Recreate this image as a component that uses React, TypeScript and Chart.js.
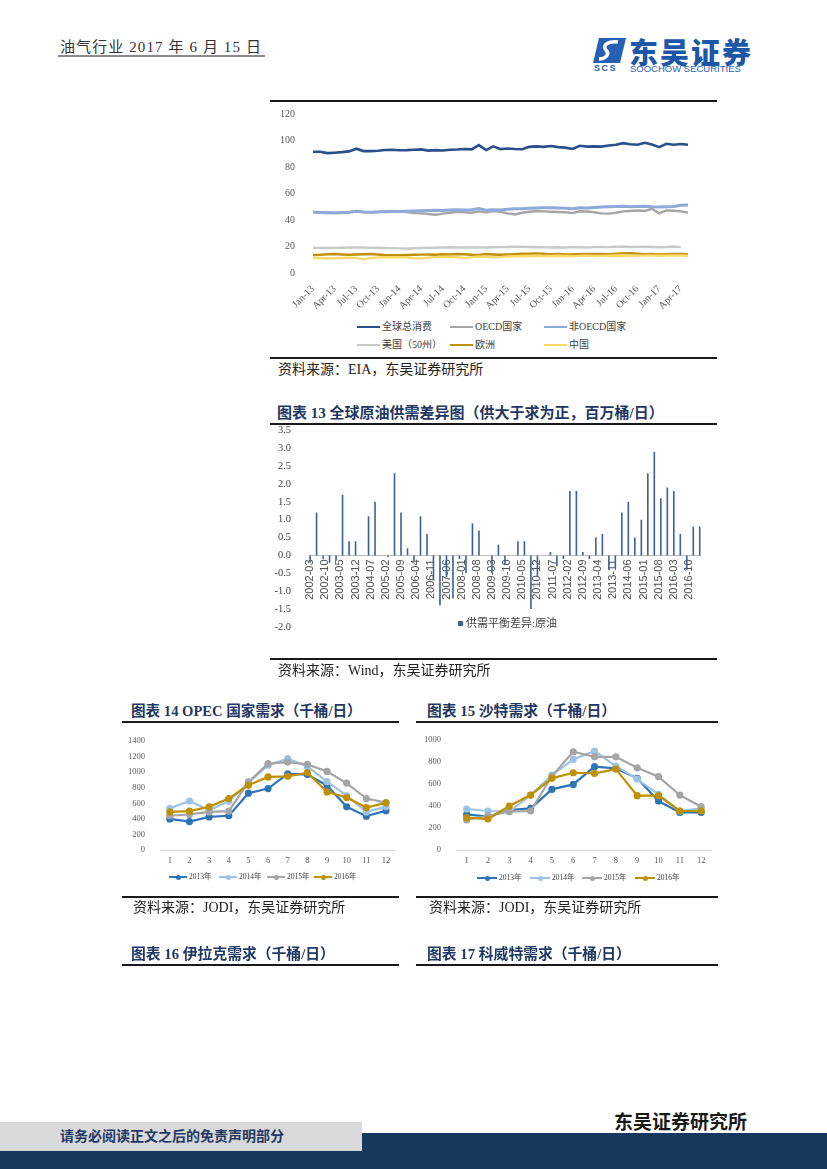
import React, { useEffect, useRef } from 'react';
import { Chart, registerables } from 'chart.js';

Chart.register(...registerables);

const SERIF = '"Liberation Serif", "Times New Roman", serif';
const SANS = '"Liberation Sans", Arial, sans-serif';
const CJK = '"Liberation Serif", "Noto Sans CJK SC", serif';
const NAVY = '#1f3864';

// ---------- Figure: global oil consumption (million bbl/d) ----------
const MONTHS = [
  'Jan-13', 'Feb-13', 'Mar-13', 'Apr-13', 'May-13', 'Jun-13', 'Jul-13', 'Aug-13', 'Sep-13', 'Oct-13', 'Nov-13', 'Dec-13',
  'Jan-14', 'Feb-14', 'Mar-14', 'Apr-14', 'May-14', 'Jun-14', 'Jul-14', 'Aug-14', 'Sep-14', 'Oct-14', 'Nov-14', 'Dec-14',
  'Jan-15', 'Feb-15', 'Mar-15', 'Apr-15', 'May-15', 'Jun-15', 'Jul-15', 'Aug-15', 'Sep-15', 'Oct-15', 'Nov-15', 'Dec-15',
  'Jan-16', 'Feb-16', 'Mar-16', 'Apr-16', 'May-16', 'Jun-16', 'Jul-16', 'Aug-16', 'Sep-16', 'Oct-16', 'Nov-16', 'Dec-16',
  'Jan-17', 'Feb-17', 'Mar-17', 'Apr-17', 'May-17',
];
const GLOBAL_TOTAL = [
  91.5, 91.5, 90.5, 90.8, 91.2, 91.8, 93.8, 92.0, 92.0, 92.3,
  92.8, 93.0, 92.6, 92.7, 93.0, 93.3, 92.4, 92.7, 92.4, 93.0,
  93.2, 93.6, 93.3, 96.5, 92.8, 95.6, 93.5, 94.0, 93.6, 93.4,
  95.2, 95.6, 95.2, 95.8, 95.0, 94.6, 93.6, 96.0, 95.4, 95.6,
  95.4, 96.2, 96.8, 98.0, 97.2, 96.8, 98.3, 97.0, 95.0, 97.5,
  96.8, 97.4, 96.8,
];
const OECD = [
  46.0, 45.8, 45.5, 45.3, 45.5, 45.8, 46.8, 46.0, 45.8, 46.2,
  46.5, 46.8, 46.5, 46.0, 45.2, 45.0, 44.5, 44.0, 44.8, 45.5,
  46.2, 45.8, 45.5, 46.5, 45.6, 46.8, 46.2, 45.0, 44.2, 45.5,
  46.2, 46.8, 46.5, 46.2, 46.0, 45.8, 45.2, 46.6, 46.4, 45.8,
  45.0, 44.8, 45.5, 46.5, 46.8, 47.2, 46.8, 48.5, 45.0, 47.2,
  47.0, 46.5, 45.6,
];
const NON_OECD = [
  45.8, 45.6, 45.4, 45.4, 45.5, 45.8, 46.6, 46.0, 45.9, 46.0,
  46.3, 46.5, 46.5, 46.6, 46.8, 47.0, 47.2, 47.3, 47.2, 47.5,
  47.8, 47.6, 47.8, 48.6, 47.4, 47.8, 47.6, 48.2, 48.4, 48.5,
  48.8, 49.0, 49.3, 49.2, 49.0, 48.8, 48.5, 49.2, 49.0, 49.4,
  49.8, 50.0, 50.2, 50.3, 50.0, 50.2, 50.4, 50.0, 49.8, 50.0,
  50.2, 51.2, 51.3,
];
const USA = [
  19.0, 19.0, 18.9, 19.0, 19.1, 19.2, 19.3, 19.2, 19.0, 19.1,
  19.0, 18.8, 18.6, 18.3, 18.7, 18.9, 19.0, 19.1, 19.3, 19.4,
  19.2, 19.3, 19.4, 19.2, 19.3, 19.4, 19.5, 19.6, 19.8, 19.9,
  19.6, 19.4, 19.5, 19.3, 19.4, 19.2, 19.5, 19.4, 19.3, 19.5,
  19.6, 19.5, 19.8, 20.0, 19.6, 19.7, 19.9, 19.6, 19.4, 19.6,
  20.0, 19.5, null,
];
const EUROPE = [
  13.6, 13.8, 14.2, 14.3, 14.0, 13.8, 14.0, 14.2, 14.3, 14.0,
  13.6, 13.4, 13.5, 13.6, 13.8, 13.9, 14.0, 13.8, 14.2, 14.0,
  14.3, 14.2, 13.8, 13.6, 14.3, 14.0, 13.8, 14.0, 14.2, 14.5,
  14.6, 14.8, 14.5, 14.2, 14.3, 14.0, 14.0, 14.3, 14.4, 14.3,
  14.4, 14.2, 14.6, 14.8, 15.0, 14.6, 14.2, 14.3, 14.0, 14.2,
  14.3, 14.4, 14.2,
];
const CHINA = [
  11.5, 11.2, 11.0, 11.1, 11.3, 11.6, 11.4, 10.3, 11.3, 11.8,
  12.0, 11.9, 12.0, 11.8, 11.2, 11.0, 11.6, 12.0, 12.2, 12.3,
  12.1, 11.2, 12.0, 12.5, 12.2, 11.8, 12.0, 12.4, 12.6, 12.8,
  12.6, 12.8, 12.9, 12.8, 13.0, 12.8, 12.7, 12.9, 13.0, 12.8,
  12.9, 13.0, 13.2, 13.0, 12.8, 13.1, 13.3, 13.2, 13.0, 13.2,
  13.3, 13.2, 13.0,
];
const CONSUMPTION_LABELS = ['全球总消费', 'OECD国家', '非OECD国家', '美国（50州）', '欧洲', '中国'];
const CONSUMPTION_COLORS = ['#2b4e8c', '#a6a6a6', '#8eaadb', '#c9c9c9', '#bf9000', '#ffd966'];

// ---------- Figure 13: supply-demand gap (quarterly values on a monthly axis) ----------
const GAP_FIRST_YEAR = 2002;
const GAP_FIRST_MONTH = 3;
const GAP_QUARTERLY = [
  -0.2, 1.2, -0.1, -0.2, -0.15, 1.7, 0.4, 0.4, 0, 1.1,
  1.5, 0, -0.05, 2.3, 1.2, 0.2, -0.15, 1.1, 0.6, -0.7,
  -1.4, -0.6, -1.2, -0.1, -0.5, 0.9, 0.7, 0, -0.5, 0.3,
  -0.25, 0, 0.4, 0.4, -1.5, -0.6, 0, 0.1, -0.3, -0.1,
  1.8, 1.8, 0.1, -0.1, 0.5, 0.6, -0.4, -0.35, 1.2, 1.5,
  0.5, 1.0, 2.3, 2.9, 1.6, 1.9, 1.8, 0.6, -0.4, 0.8,
  0.8,
];
const GAP_LABEL = '供需平衡差异:原油';

const GAP_MONTHS: string[] = [];
const GAP_VALUES: (number | null)[] = [];
for (let k = 0; k < (GAP_QUARTERLY.length - 1) * 3 + 1; k++) {
  const m = GAP_FIRST_MONTH - 1 + k;
  const yr = GAP_FIRST_YEAR + Math.floor(m / 12);
  const mm = (m % 12) + 1;
  GAP_MONTHS.push(`${yr}-${String(mm).padStart(2, '0')}`);
  GAP_VALUES.push(k % 3 === 0 ? GAP_QUARTERLY[k / 3] : null);
}

// ---------- Figures 14 & 15 ----------
const MONTH_NUMS = ['1', '2', '3', '4', '5', '6', '7', '8', '9', '10', '11', '12'];
const YEAR_LABELS = ['2013年', '2014年', '2015年', '2016年'];
const YEAR_COLORS = ['#2e75b6', '#9dc3e6', '#a5a5a5', '#bf9000'];

const OPEC_2013 = [400, 365, 425, 440, 730, 790, 980, 970, 830, 555, 435, 505];
const OPEC_2014 = [535, 630, 510, 625, 865, 1090, 1175, 1075, 880, 700, 490, 555];
const OPEC_2015 = [440, 457, 490, 500, 875, 1110, 1130, 1100, 1010, 860, 662, 610];
const OPEC_2016 = [490, 500, 555, 662, 832, 940, 947, 995, 747, 674, 546, 606];

const SAUDI_2013 = [324, 303, 364, 379, 552, 597, 758, 742, 652, 445, 342, 342];
const SAUDI_2014 = [373, 355, 348, 500, 682, 824, 900, 764, 645, 506, 355, 379];
const SAUDI_2015 = [273, 312, 348, 355, 673, 894, 848, 848, 748, 667, 500, 394];
const SAUDI_2016 = [294, 282, 400, 500, 652, 703, 697, 736, 494, 494, 355, 355];

// ---------- configs ----------
function consumptionConfig(): any {
  const series = [GLOBAL_TOTAL, OECD, NON_OECD, USA, EUROPE, CHINA];
  const widths = [2.6, 2.4, 3, 2.4, 2.4, 2.4];
  return {
    type: 'line',
    data: {
      labels: MONTHS,
      datasets: series.map((d, i) => ({
        label: CONSUMPTION_LABELS[i],
        data: d,
        borderColor: CONSUMPTION_COLORS[i],
        backgroundColor: CONSUMPTION_COLORS[i],
        borderWidth: widths[i],
        pointRadius: 0,
        tension: 0,
        fill: false,
        order: series.length - i,
      })),
    },
    options: {
      animation: false,
      responsive: false,
      layout: { padding: { top: 9, right: 29, bottom: 0, left: 0 } },
      plugins: { legend: { display: false }, tooltip: { enabled: false } },
      scales: {
        x: {
          grid: { display: false },
          border: { display: false },
          ticks: {
            autoSkip: false,
            minRotation: 45,
            maxRotation: 45,
            padding: 2,
            color: '#595959',
            font: { family: SERIF, size: 10 },
            callback: (_v: any, i: number) => (i % 3 === 0 ? MONTHS[i] : ''),
          },
          afterFit: (s: any) => { s.height = 47; },
        },
        y: {
          min: 0,
          max: 120,
          grid: { display: false },
          border: { display: false },
          ticks: { stepSize: 20, padding: 10, color: '#595959', font: { family: SERIF, size: 10 } },
          afterFit: (s: any) => { s.width = 43; },
        },
      },
    },
  };
}

function gapConfig(): any {
  return {
    type: 'bar',
    data: {
      labels: GAP_MONTHS,
      datasets: [{
        label: GAP_LABEL,
        data: GAP_VALUES,
        backgroundColor: '#3f6296',
        barPercentage: 0.75,
        categoryPercentage: 1,
      }],
    },
    options: {
      animation: false,
      responsive: false,
      layout: { padding: { top: 10, right: 7, bottom: 33, left: 0 } },
      plugins: { legend: { display: false }, tooltip: { enabled: false } },
      scales: {
        x: {
          position: { y: 0 },
          grid: { display: false, drawTicks: false },
          border: { display: true, color: '#bfbfbf', width: 1 },
          ticks: {
            autoSkip: false,
            minRotation: 90,
            maxRotation: 90,
            padding: 4,
            color: '#505050',
            font: { family: SANS, size: 11 },
            callback: (_v: any, i: number) => (i % 7 === 0 ? GAP_MONTHS[i] : ''),
          },
        },
        y: {
          min: -2,
          max: 3.5,
          grid: { display: false },
          border: { display: false },
          ticks: {
            stepSize: 0.5,
            padding: 10,
            color: '#404040',
            font: { family: SERIF, size: 10.5 },
            callback: (v: any) => Number(v).toFixed(1),
          },
          afterFit: (s: any) => { s.width = 39; },
        },
      },
    },
  };
}

function yearlyConfig(sets: number[][], yMax: number, yStep: number, rightPad: number): any {
  return {
    type: 'line',
    data: {
      labels: MONTH_NUMS,
      datasets: sets.map((d, i) => ({
        label: YEAR_LABELS[i],
        data: d,
        borderColor: YEAR_COLORS[i],
        backgroundColor: YEAR_COLORS[i],
        pointBackgroundColor: YEAR_COLORS[i],
        pointBorderColor: YEAR_COLORS[i],
        pointRadius: 2.5,
        borderWidth: 2.2,
        tension: 0,
        fill: false,
        order: sets.length - i,
      })),
    },
    options: {
      animation: false,
      responsive: false,
      layout: { padding: { top: 8, right: rightPad, bottom: 22, left: 0 } },
      plugins: { legend: { display: false }, tooltip: { enabled: false } },
      scales: {
        x: {
          offset: true,
          grid: { display: false, drawTicks: false },
          border: { display: true, color: '#d9d9d9' },
          ticks: { padding: 6, color: '#595959', font: { family: SERIF, size: 8.5 } },
          afterFit: (s: any) => { s.height = 18; },
        },
        y: {
          min: 0,
          max: yMax,
          grid: { display: false },
          border: { display: false },
          ticks: {
            stepSize: yStep,
            padding: 7,
            color: '#595959',
            font: { family: SERIF, size: 8.5 },
            callback: (v: any) => String(v),
          },
          afterFit: (s: any) => { s.width = 38; },
        },
      },
    },
  };
}

// ---------- components ----------
function ChartBox({ x, y, w, h, make }: { x: number; y: number; w: number; h: number; make: () => any }) {
  const ref = useRef<HTMLCanvasElement>(null);
  useEffect(() => {
    if (!ref.current) return;
    const chart = new Chart(ref.current, make());
    return () => chart.destroy();
  }, []);
  return (
    <canvas
      ref={ref}
      width={w}
      height={h}
      style={{ position: 'absolute', left: x, top: y, width: w, height: h }}
    />
  );
}

function T({ x, y, size, color = '#222', weight = 400, family = CJK, children, spacing = 0 }: any) {
  return (
    <div
      style={{
        position: 'absolute',
        left: x,
        top: y - size / 2,
        height: size,
        lineHeight: `${size}px`,
        fontSize: size,
        fontWeight: weight,
        fontFamily: family,
        color,
        whiteSpace: 'pre',
        letterSpacing: spacing,
      }}
    >
      {children}
    </div>
  );
}

function Rule({ x, y, w, h = 2, color = '#1a1a1a' }: any) {
  return <div style={{ position: 'absolute', left: x, top: y, width: w, height: h, background: color }} />;
}

function LineKey({ x, y, color, label, w = 24, dot = false, size = 10, lw = 2 }: any) {
  return (
    <div
      style={{
        position: 'absolute',
        left: x,
        top: y - size / 2,
        height: size,
        display: 'flex',
        alignItems: 'center',
        whiteSpace: 'nowrap',
        fontSize: size,
        lineHeight: `${size}px`,
        fontFamily: CJK,
        color: '#404040',
      }}
    >
      <span style={{ position: 'relative', display: 'inline-block', width: w, height: lw, background: color, marginRight: 2 }}>
        {dot && (
          <span
            style={{
              position: 'absolute',
              left: w / 2 - 2.5,
              top: lw / 2 - 2.5,
              width: 5,
              height: 5,
              borderRadius: '50%',
              background: color,
            }}
          />
        )}
      </span>
      {label}
    </div>
  );
}

export default function App() {
  const consKeys = [
    [357, 327], [450, 327], [544, 327],
    [357, 345], [450, 345], [544, 345],
  ];
  const opecKeyX = [169, 219, 267, 314];
  const saudiKeyX = [477, 530, 582, 635];
  return (
    <div
      style={{
        position: 'absolute',
        left: 0,
        top: 0,
        width: 827,
        height: 1169,
        background: '#fff',
        overflow: 'hidden',
        fontFamily: CJK,
      }}
    >
      {/* header */}
      <T x={60} y={47} size={15} color="#333" spacing={1.1}>油气行业 2017 年 6 月 15 日</T>
      <Rule x={58} y={55} w={207} h={2} color="#8c8c8c" />
      <svg style={{ position: 'absolute', left: 593, top: 38 }} width={33} height={25} viewBox="0 0 33 25">
        <path d="M6 0 H33 L27 25 H0 Z" fill="#2560b4" />
        <path d="M25 4 C15 3 9 7 13 12 C17 16 13 21 6 21" stroke="#fff" strokeWidth="3.5" fill="none" />
      </svg>
      <T x={594} y={68} size={9} color="#2560b4" weight={900} family={SANS} spacing={1.5}>SCS</T>
      <T x={629} y={51} size={29} color="#1d58a8" weight={900} family='"Noto Sans CJK SC", sans-serif' spacing={2}>东吴证券</T>
      <T x={630} y={69} size={9.5} color="#2560b4" family={SANS}>SOOCHOW SECURITIES</T>

      {/* consumption chart */}
      <Rule x={270} y={100} w={447} h={2} />
      <ChartBox x={270} y={98} w={447} h={222} make={consumptionConfig} />
      {consKeys.map(([kx, ky], i) => (
        <LineKey key={i} x={kx} y={ky} color={CONSUMPTION_COLORS[i]} label={CONSUMPTION_LABELS[i]} w={23} size={10} lw={2} />
      ))}
      <Rule x={270} y={357} w={447} h={1.5} />
      <T x={278} y={370} size={14}>资料来源：EIA，东吴证券研究所</T>

      {/* figure 13 */}
      <T x={277} y={413} size={15} color={NAVY} weight={700}>图表 13 全球原油供需差异图（供大于求为正，百万桶/日）</T>
      <Rule x={270} y={423} w={447} h={2} />
      <ChartBox x={270} y={414} w={447} h={246} make={gapConfig} />
      <div
        style={{
          position: 'absolute',
          left: 458,
          top: 617,
          height: 12,
          display: 'flex',
          alignItems: 'center',
          fontSize: 11,
          lineHeight: '12px',
          color: '#404040',
          whiteSpace: 'nowrap',
          fontFamily: CJK,
        }}
      >
        <span style={{ display: 'inline-block', width: 5, height: 5, background: '#3f6296', marginRight: 3 }} />
        {GAP_LABEL}
      </div>
      <Rule x={270} y={658} w={447} h={1.5} />
      <T x={278} y={671} size={14}>资料来源：Wind，东吴证券研究所</T>

      {/* figure 14 */}
      <T x={131} y={711} size={14.6} color={NAVY} weight={700}>图表 14 OPEC 国家需求（千桶/日）</T>
      <Rule x={122} y={721} w={277} h={2} />
      <ChartBox
        x={122}
        y={729}
        w={280}
        h={161}
        make={() => yearlyConfig([OPEC_2013, OPEC_2014, OPEC_2015, OPEC_2016], 1400, 200, 5)}
      />
      {opecKeyX.map((kx, i) => (
        <LineKey key={i} x={kx} y={877} color={YEAR_COLORS[i]} label={YEAR_LABELS[i]} w={18} dot size={7.5} lw={2} />
      ))}
      <Rule x={122} y={896} w={277} h={1.5} />
      <T x={133} y={908} size={14}>资料来源：JODI，东吴证券研究所</T>

      {/* figure 15 */}
      <T x={427} y={711} size={14.8} color={NAVY} weight={700}>图表 15 沙特需求（千桶/日）</T>
      <Rule x={416} y={721} w={302} h={2} />
      <ChartBox
        x={418}
        y={728}
        w={300}
        h={162}
        make={() => yearlyConfig([SAUDI_2013, SAUDI_2014, SAUDI_2015, SAUDI_2016], 1000, 100, 2)}
      />
      {saudiKeyX.map((kx, i) => (
        <LineKey key={i} x={kx} y={878} color={YEAR_COLORS[i]} label={YEAR_LABELS[i]} w={20} dot size={7.5} lw={2} />
      ))}
      <Rule x={416} y={896} w={302} h={1.5} />
      <T x={429} y={908} size={14}>资料来源：JODI，东吴证券研究所</T>

      {/* figures 16 / 17 titles */}
      <T x={131} y={954} size={14.8} color={NAVY} weight={700}>图表 16 伊拉克需求（千桶/日）</T>
      <Rule x={122} y={964} w={277} h={2} />
      <T x={427} y={954} size={14.8} color={NAVY} weight={700}>图表 17 科威特需求（千桶/日）</T>
      <Rule x={416} y={964} w={302} h={2} />

      {/* footer */}
      <T x={614} y={1122} size={19} color="#1a1a1a" weight={700}>东吴证券研究所</T>
      <div style={{ position: 'absolute', left: 362, top: 1133, width: 465, height: 36, background: '#17375e' }} />
      <div style={{ position: 'absolute', left: 0, top: 1151, width: 827, height: 18, background: '#17375e' }} />
      <div style={{ position: 'absolute', left: 0, top: 1122, width: 362, height: 29, background: '#d9d9d9' }} />
      <T x={60} y={1137} size={14} color={NAVY} weight={700}>请务必阅读正文之后的免责声明部分</T>
    </div>
  );
}
